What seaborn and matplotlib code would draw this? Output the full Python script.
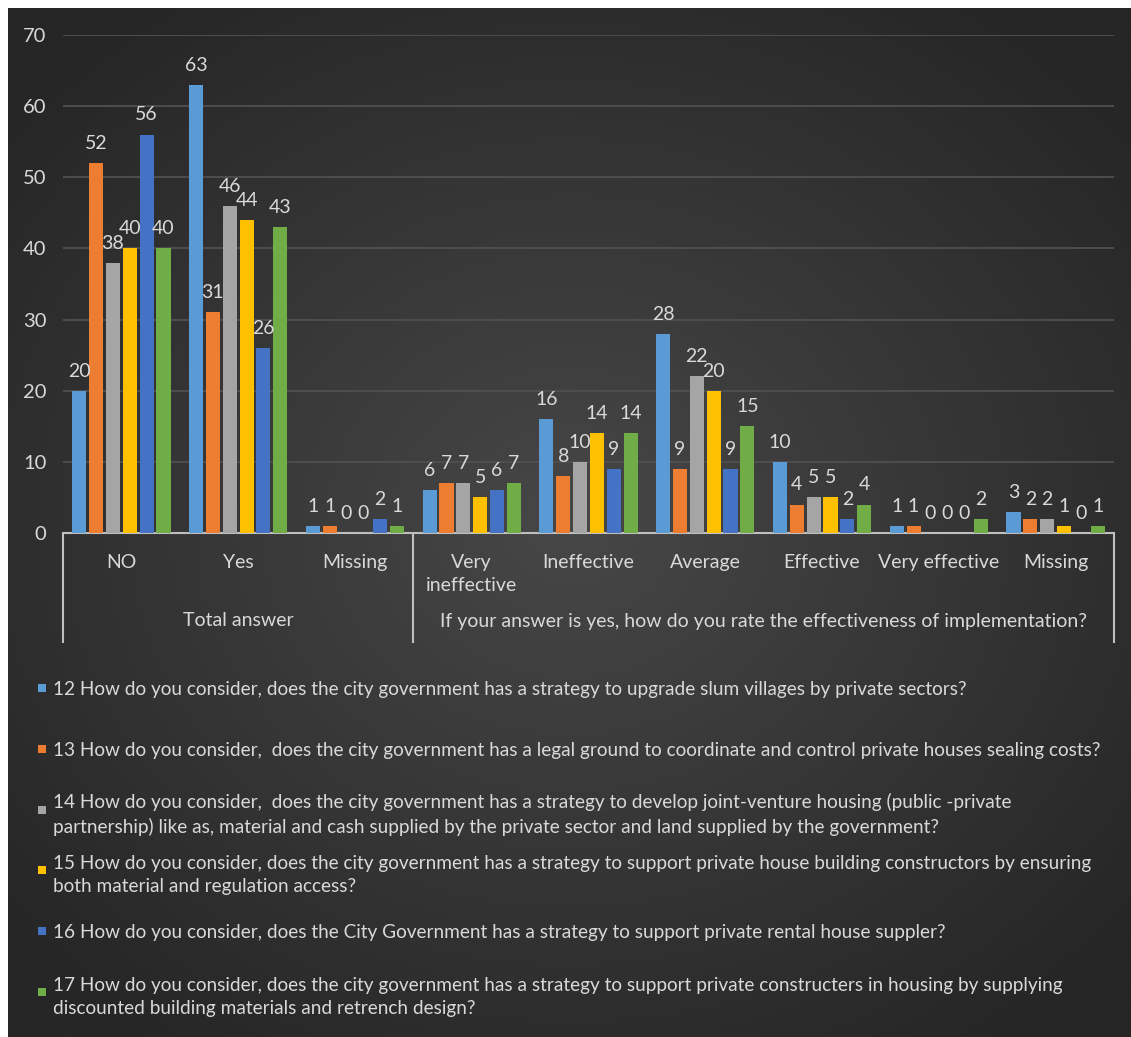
import numpy as np
import pandas as pd
import matplotlib
matplotlib.use("Agg")
import matplotlib.pyplot as plt
from matplotlib.patches import Rectangle
from matplotlib.colors import LinearSegmentedColormap
import seaborn as sns

# ---- data ---------------------------------------------------------------
groups = ["Total answer",
          "If your answer is yes, how do you rate the effectiveness of implementation?"]
group_sizes = [3, 6]
categories = ["NO", "Yes", "Missing",
              "Very\nineffective", "Ineffective", "Average", "Effective",
              "Very effective", "Missing"]

questions = [
    "12 How do you consider, does the city government has a strategy to upgrade slum villages by private sectors?",
    "13 How do you consider,  does the city government has a legal ground to coordinate and control private houses sealing costs?",
    "14 How do you consider,  does the city government has a strategy to develop joint-venture housing (public -private\n"
    "partnership) like as, material and cash supplied by the private sector and land supplied by the government?",
    "15 How do you consider, does the city government has a strategy to support private house building constructors by ensuring\n"
    "both material and regulation access?",
    "16 How do you consider, does the City Government has a strategy to support private rental house suppler?",
    "17 How do you consider, does the city government has a strategy to support private constructers in housing by supplying\n"
    "discounted building materials and retrench design?",
]

q12 = [20, 63, 1, 6, 16, 28, 10, 1, 3]
q13 = [52, 31, 1, 7, 8, 9, 4, 1, 2]
q14 = [38, 46, 0, 7, 10, 22, 5, 0, 2]
q15 = [40, 44, 0, 5, 14, 20, 5, 0, 1]
q16 = [56, 26, 2, 6, 9, 9, 2, 0, 0]
q17 = [40, 43, 1, 7, 14, 15, 4, 2, 1]
series_values = [q12, q13, q14, q15, q16, q17]

colors = ["#5B9BD5", "#ED7D31", "#A5A5A5", "#FFC000", "#4472C4", "#70AD47"]

# ---- long-form table --------------------------------------------------------
keys = [f"c{i}" for i in range(len(categories))]
rows = []
for q, vals in zip(questions, series_values):
    for k, v in zip(keys, vals):
        rows.append({"key": k, "question": q, "value": v})
df = pd.DataFrame(rows)

# ---- figure -----------------------------------------------------------------
W, H = 1131, 1037
fig = plt.figure(figsize=(W / 100, H / 100), dpi=100, facecolor="white")
plt.rcParams["font.family"] = ["Lato", "DejaVu Sans"]

def fx(px):
    return px / W

def fy(py):
    return 1 - py / H

# dark radial-gradient backdrop
bg = fig.add_axes([fx(8), 0, 1 - fx(8), 1 - 8 / H], zorder=-10)
yy, xx = np.mgrid[-1:1:400j, -1:1:440j]
r = np.sqrt((xx * 1.0) ** 2 + (yy * 1.05) ** 2)
r = np.clip(r / 1.3, 0, 1)
cmap = LinearSegmentedColormap.from_list("bgg", ["#474747", "#262626"])
bg.imshow(r, cmap=cmap, aspect="auto", extent=[0, 1, 0, 1], interpolation="bilinear")
bg.set_axis_off()

text_col = "#d9d9d9"
axis_col = "#bfbfbf"

left, right, top, bottom = 63, 1114, 35, 533
ax = fig.add_axes([fx(left), fy(bottom), fx(right - left), (bottom - top) / H])
ax.set_facecolor("none")

sns.barplot(data=df, x="key", y="value", hue="question", order=keys,
            hue_order=questions, palette=colors, saturation=1,
            width=0.865, gap=0.16, errorbar=None, legend=False, ax=ax, zorder=3)

for cont in ax.containers:
    ax.bar_label(cont, fmt="%g", padding=8, color=text_col, fontsize=14)

ax.set_ylim(0, 70)
ax.set_xlim(-0.5, len(categories) - 0.5)
ax.set_yticks(range(0, 71, 10))
ax.yaxis.grid(True, color="#505050", linewidth=1.3)
ax.set_axisbelow(True)
ax.set_xlabel("")
ax.set_ylabel("")
ax.set_xticks(range(len(categories)))
ax.set_xticklabels(categories, fontsize=14, color=text_col, linespacing=1.45)
ax.tick_params(axis="x", length=0, pad=15)
ax.tick_params(axis="y", length=0, pad=12, labelsize=14.5, labelcolor=text_col)
for s in ["top", "right", "left"]:
    ax.spines[s].set_visible(False)
ax.spines["bottom"].set_color(axis_col)
ax.spines["bottom"].set_linewidth(1.5)

# multi-level category axis: separators and group captions
tr = ax.get_xaxis_transform()
axes_h = bottom - top
sep_low = -(643 - bottom) / axes_h
grp_y = -(621 - bottom) / axes_h
edges = np.concatenate([[0], np.cumsum(group_sizes)]) - 0.5
for e in edges:
    ax.plot([e, e], [0, sep_low], transform=tr, color=axis_col, lw=1.5,
            clip_on=False, solid_capstyle="butt")
for g, a, b in zip(groups, edges[:-1], edges[1:]):
    ax.text((a + b) / 2, grp_y, g, transform=tr, ha="center", va="center",
            fontsize=14, color=text_col)

# legend, one question per fixed-height slot
slot = 60.8
for i, (q, c) in enumerate(zip(questions, colors)):
    yc = 688 + i * slot
    fig.patches.append(Rectangle((fx(38), fy(yc + 4)), fx(8), 8 / H,
                                 transform=fig.transFigure, facecolor=c,
                                 edgecolor="none"))
    fig.text(fx(53), fy(yc), q, ha="left", va="center_baseline",
             fontsize=13.7, color=text_col, linespacing=1.45)

fig.savefig("out.png", dpi=100, facecolor="white")
